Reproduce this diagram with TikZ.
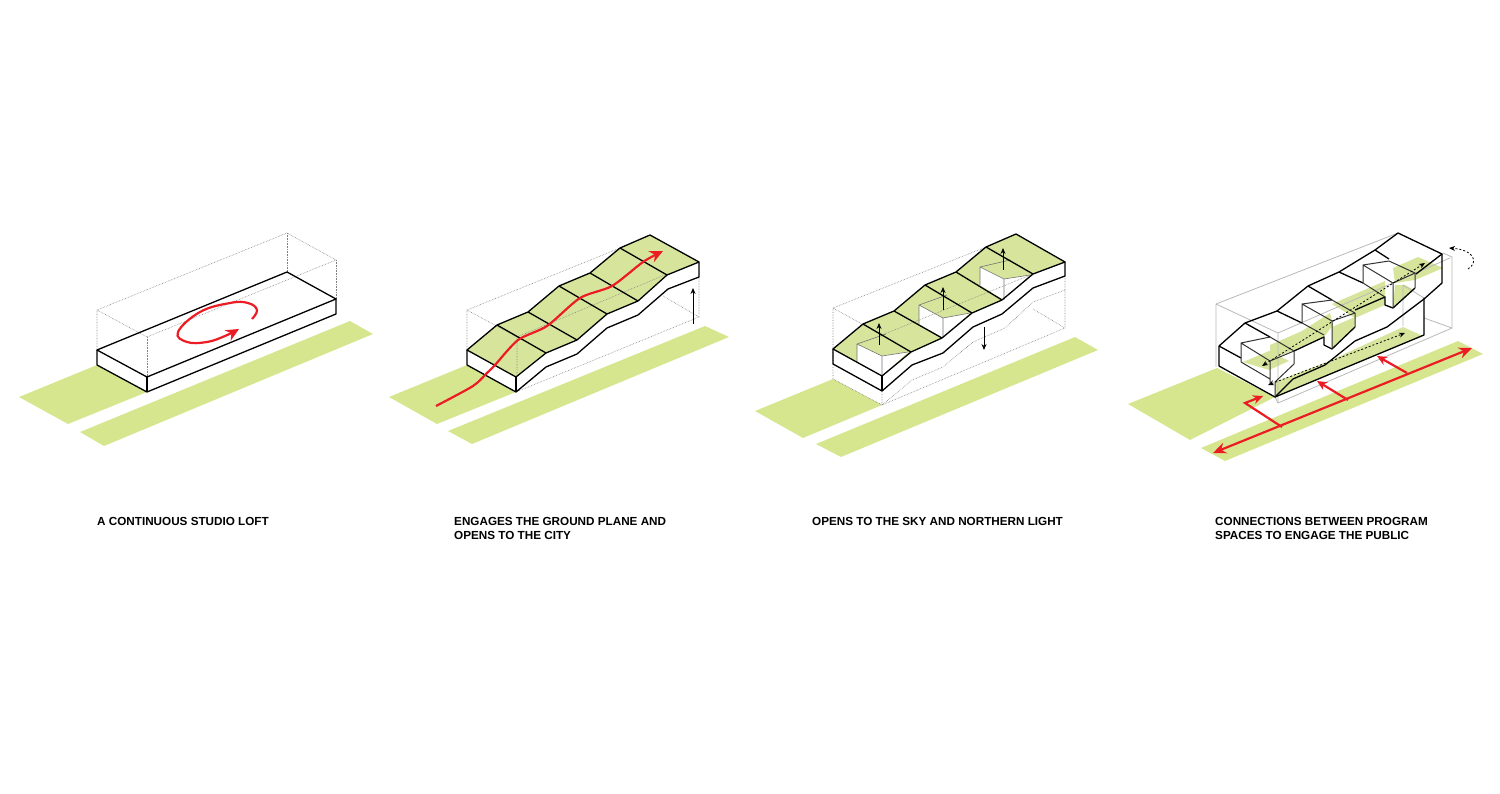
\documentclass[tikz,border=0pt]{standalone}
\usepackage{fontspec}
\setmainfont{Liberation Sans}
\usetikzlibrary{arrows.meta}
\definecolor{lawn}{HTML}{D6E68F}
\definecolor{roofgreen}{HTML}{D7E59C}
\definecolor{routered}{HTML}{EC1C24}
\tikzset{
  ground/.style={fill=lawn, draw=none},
  mass/.style={draw=black, line width=1.3pt, line join=round},
  thinmass/.style={draw=black!80, line width=1pt, line join=round},
  crease/.style={draw=black!55, line width=0.6pt},
  ghost/.style={draw=black!50, line width=0.6pt, densely dotted},
  ghostsolid/.style={draw=black!28, line width=0.8pt},
  route/.style={draw=routered, line width=2.2pt},
  routetip/.style={-{Stealth[length=13pt,width=12pt]}},
  lift/.style={draw=black, line width=0.8pt, -{Stealth[length=6pt,width=5pt]}},
  through/.style={draw=black, line width=0.8pt, dash pattern=on 2pt off 2pt,
    {Stealth[length=6pt,width=5pt]}-{Stealth[length=6pt,width=5pt]}},
  caption/.style={anchor=north west, inner sep=0pt, align=left, font=\fontsize{11.7}{14}\selectfont\bfseries}
}
\begin{document}
\begin{tikzpicture}[x=1pt, y=-1pt]
  \useasboundingbox (0,0) rectangle (1500,794);

  % Panel 1: flat loft
  \fill[ground] (19,397) -- (97,365) -- (147,392) -- (68,424) -- cycle;
  \fill[ground] (350,321) -- (373,334) -- (104,446) -- (80,432) -- cycle;
  \draw[ghost] (97,350) -- (97,310) -- (287,233) -- (336,260) -- (147,337) -- (97,310);
  \draw[ghost] (147,337) -- (147,377) (287,233) -- (287,272) (336,260) -- (336,299);
  \draw[mass] (97,350) -- (287,272) -- (336,299) -- (147,377) -- cycle;
  \draw[mass] (97,350) -- (97,365) -- (147,392) -- (336,314) -- (336,299);
  \draw[mass] (147,377) -- (147,392);
  \draw[route, routetip] plot[smooth, tension=0.7] coordinates {(252,319) (257,310) (248,303) (230,303) (200,312) (178,332) (187,342) (207,342) (225,336) (239,329)};
  \node[caption] (loftlabel) at (97,517) {A CONTINUOUS STUDIO LOFT};

  % Panel 2: stepped roof, route from the city
  \fill[ground] (389,397) -- (467,365) -- (516,392) -- (437,424) -- cycle;
  \fill[ground] (705,326) -- (729,337) -- (472,444) -- (448,431) -- cycle;
  \fill[roofgreen] (467,350) -- (497,325) -- (528,312) -- (559,286) -- (590,273) -- (620,248) -- (650,235)
    -- (699,262) -- (667,275) -- (638,301) -- (607,314) -- (577,340) -- (546,353) -- (516,377) -- cycle;
  \draw[ghost] (467,350) -- (467,310) -- (620,248) (467,310) -- (517,337) -- (667,274);
  \draw[ghost] (517,337) -- (517,377) (663,296) -- (699,317) -- (699,277) (699,317) -- (516,392);
  \draw[mass] (467,350) -- (497,325) -- (528,312) -- (559,286) -- (590,273) -- (620,248) -- (650,235)
    -- (699,262) -- (667,275) -- (638,301) -- (607,314) -- (577,340) -- (546,353) -- (516,377) -- cycle;
  \draw[mass] (497,325) -- (546,353) (528,312) -- (577,340) (559,286) -- (607,314) (590,273) -- (638,301) (620,248) -- (667,275);
  \draw[mass] (467,350) -- (467,365) -- (516,392) -- (546,367) -- (577,354) -- (607,328) -- (638,315) -- (668,289) -- (699,277) -- (699,262);
  \draw[mass] (516,377) -- (516,392);
  \draw[lift] (693,324) -- (693,288);
  \draw[route, routetip] plot[smooth, tension=0.45] coordinates {(436,406) (473,386) (487,373) (495,365) (518,340) (547,326) (580,298) (612,286) (643,262) (663,251)};
  \node[caption] (citylabel) at (454,517) {ENGAGES THE GROUND PLANE AND\\OPENS TO THE CITY};

  % Panel 3: lifted roof with skylights
  \fill[ground] (755,411) -- (833,379) -- (882,405) -- (803,438) -- cycle;
  \fill[ground] (1075,337) -- (1098,350) -- (841,457) -- (816,444) -- cycle;
  \fill[roofgreen] (833,349) -- (863,324) -- (894,311) -- (925,285) -- (956,272) -- (986,247) -- (1016,234)
    -- (1065,262) -- (1033,274) -- (1002,300) -- (972,313) -- (942,338) -- (911,352) -- (882,376) -- cycle;
  % skylight openings
  \fill[white] (857,344) -- (882,356) -- (908,352) -- (882,376) -- (857,362) -- cycle;
  \fill[white] (919,305) -- (943,318) -- (970,313) -- (943,338) -- (919,324) -- cycle;
  \fill[white] (980,267) -- (1004,279) -- (1030,275) -- (1004,300) -- (980,285) -- cycle;
  \draw[crease] (857,344) -- (857,362) (857,344) -- (882,356) -- (882,376) (882,356) -- (908,352) (857,344) -- (886,334);
  \draw[crease] (919,305) -- (919,324) (919,305) -- (943,318) -- (943,338) (943,318) -- (970,313) (919,305) -- (947,295);
  \draw[crease] (980,267) -- (980,285) (980,267) -- (1004,279) -- (1004,300) (1004,279) -- (1030,275) (980,267) -- (1010,260);
  \draw[ghost] (833,364) -- (833,308) -- (986,247) (882,335) -- (833,308) (882,335) -- (1033,274);
  \draw[ghost] (882,391) -- (882,405) -- (912,380) -- (943,367) -- (973,342) -- (1005,328) -- (1033,302) -- (1065,290);
  \draw[ghost] (833,364) -- (833,379) -- (882,405) -- (1065,328) -- (1065,276) (1033,309) -- (1065,328);
  \draw[mass] (833,349) -- (863,324) -- (894,311) -- (925,285) -- (956,272) -- (986,247) -- (1016,234)
    -- (1065,262) -- (1033,274) -- (1002,300) -- (972,313) -- (942,338) -- (911,352) -- (882,376) -- cycle;
  \draw[mass] (863,324) -- (911,352) (894,311) -- (942,338) (925,285) -- (972,313) (956,272) -- (1002,300) (986,247) -- (1033,274);
  \draw[mass] (833,349) -- (833,364) -- (882,391) -- (912,365) -- (943,353) -- (973,327) -- (1002,314) -- (1033,288) -- (1065,276) -- (1065,262);
  \draw[mass] (882,376) -- (882,391);
  \draw[lift] (879,345) -- (879,323);
  \draw[lift] (943,310) -- (943,287);
  \draw[lift] (1003,270) -- (1003,248);
  \draw[lift] (984,327) -- (984,350);
  \node[caption] (skylabel) at (812,517) {OPENS TO THE SKY AND NORTHERN LIGHT};

  % Panel 4: program spaces, sections cut through the mass
  \fill[ground] (1128,404) -- (1217,368) -- (1275,397) -- (1190,440) -- cycle;
  \fill[ground] (1458,341) -- (1483,354) -- (1225,461) -- (1201,448) -- cycle;
  % upper floor band, seen between the sections
  \fill[roofgreen] (1270,345) -- (1302,331) -- (1330,313) -- (1333,325) -- (1324,337) -- (1294,350) -- (1270,360) -- cycle;
  \fill[roofgreen] (1332,304) -- (1385,281) -- (1385,305) -- (1355,318) -- cycle;
  \fill[roofgreen] (1393,268) -- (1418,257) -- (1443,268) -- (1415,280) -- (1395,283) -- cycle;
  \fill[roofgreen] (1243,362) -- (1269,351) -- (1289,361) -- (1269,370) -- cycle;
  \fill[roofgreen] (1332,327) -- (1355,317) -- (1355,327) -- (1332,349) -- cycle;
  \fill[roofgreen] (1395,285) -- (1405,285) -- (1414,290) -- (1393,308) -- cycle;
  % ramp
  \fill[roofgreen] (1275,382) -- (1327,362) -- (1403,327) -- (1423,336) -- (1275,397) -- cycle;
  \draw[ghostsolid] (1216,367) -- (1216,304) -- (1398,233) (1216,304) -- (1278,333) -- (1450,258) (1443,253) -- (1452,257) -- (1452,328) -- (1278,403) -- (1275,397);
  \draw[ghostsolid] (1278,333) -- (1278,403) (1403,285) -- (1403,326) (1424,318) -- (1452,328) (1403,285) -- (1424,298);
  \draw[mass] (1219,346) -- (1245,323) -- (1277,311) -- (1308,286) -- (1339,272) -- (1375,250) -- (1398,233) -- (1442,254) -- (1416,274);
  \draw[mass] (1219,346) -- (1219,366) -- (1275,397) -- (1424,335) -- (1424,298);
  \draw[mass] (1275,397) -- (1293,379) -- (1325,365) -- (1355,341) -- (1387,327) -- (1424,299) -- (1442,283) -- (1442,254);
  \draw[mass] (1219,346) -- (1241,358) (1245,323) -- (1270,337) (1277,311) -- (1302,323) (1308,286) -- (1332,300) (1339,272) -- (1363,283) (1375,250) -- (1389,259);
  \draw[mass] (1294,351) -- (1324,337) -- (1324,345) -- (1332,349) -- (1355,327);
  \draw[mass] (1355,310) -- (1385,297) -- (1385,305) -- (1393,308) -- (1415,288);
  % first section
  \draw[thinmass] (1241,362) -- (1241,343) -- (1270,361) -- (1294,351) -- (1294,364) -- (1275,382) (1241,343) -- (1270,337) -- (1294,351) (1241,362) -- (1270,379) (1270,361) -- (1270,383) (1275,382) -- (1275,397);
  % second section
  \draw[thinmass] (1302,323) -- (1302,304) -- (1332,321) -- (1355,313) -- (1355,327) (1302,304) -- (1332,300) -- (1355,313) (1302,323) -- (1324,335) (1332,321) -- (1332,349);
  % third section
  \draw[thinmass] (1363,283) -- (1363,265) -- (1393,283) -- (1415,273) -- (1415,288) (1363,265) -- (1389,261) -- (1415,273) (1363,283) -- (1385,297) (1393,283) -- (1393,308);
  \draw[through] (1262,366) -- (1425,263);
  \draw[through] (1268,385) -- (1405,333);
  \draw[draw=black, line width=0.8pt, dash pattern=on 2pt off 2pt, -{Stealth[length=6pt,width=5pt]}]
    (1468,269) .. controls (1479,262) and (1474,250) .. (1449,248);
  \coordinate (mainend) at (1213,453);
  \coordinate (mainstart) at (1472,348);
  \coordinate (branchfirst) at (1282,427);
  \coordinate (branchsecond) at (1348,400);
  \coordinate (branchthird) at (1407,373);
  \draw[route, {Stealth[length=13pt,width=11pt]}-{Stealth[length=13pt,width=11pt]}] (mainend) -- (mainstart);
  \draw[route, -{Stealth[length=10pt,width=9pt]}] (branchfirst) -- (1245,403) -- (1263,396);
  \draw[route, -{Stealth[length=10pt,width=9pt]}] (branchsecond) -- (1317,381);
  \draw[route, -{Stealth[length=10pt,width=9pt]}] (branchthird) -- (1377,356);
  \node[caption] (publiclabel) at (1215,517) {CONNECTIONS BETWEEN PROGRAM\\SPACES TO ENGAGE THE PUBLIC};
\end{tikzpicture}
\end{document}
